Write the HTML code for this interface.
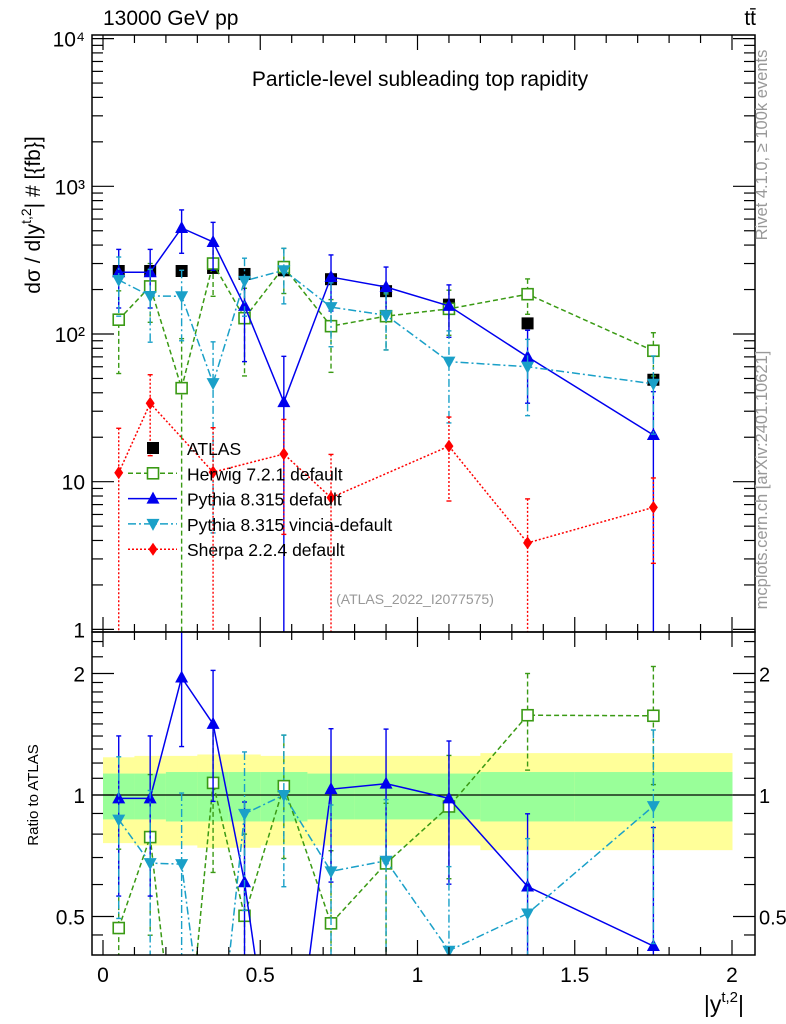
<!DOCTYPE html>
<html><head><meta charset="utf-8"><style>
html,body{margin:0;padding:0;background:#fff;width:786px;height:1024px;overflow:hidden;position:relative;}
svg{display:block;font-family:"Liberation Sans",sans-serif;}
</style></head><body>
<svg id="c" width="786" height="1024" style="position:absolute;left:0;top:0" xmlns="http://www.w3.org/2000/svg"></svg>
<script>
const binCenters=[0.05,0.15,0.25,0.35,0.45,0.575,0.725,0.9,1.1,1.35,1.75];
const binLo=[0,0.1,0.2,0.3,0.4,0.5,0.65,0.8,1.0,1.2,1.5];
const binHi=[0.1,0.2,0.3,0.4,0.5,0.65,0.8,1.0,1.2,1.5,2.0];
const atlasVals=[267,267,267,280,255,270,235,195,158,118,49];
const herwigVals=[125,210,43,300,128,284,113,132,148,186,77];
const herwigErr=[71,90,50,120,76,96,58,54,50,50,25];
const pythiaVals=[262,262,522,420,155,34.6,243,208,155,70,20.7];
const pythiaErr=[112,112,170,150,90,36,100,76,60,36,20];
const vinciaVals=[232,181,180,46.5,229,270,152,134,65,60,46];
const vinciaErr=[100,93,90,42,97,110,70,56,40,32,25];
const sherpaVals=[11.5,34,null,11.6,null,15.4,7.8,null,17.4,3.85,6.7];
const sherpaErr=[11.5,19,null,11.6,null,11,7.5,null,10,3.8,3.9];
const bandInner=[0.13,0.13,0.14,0.14,0.14,0.14,0.13,0.13,0.13,0.14,0.14];
const bandOuter=[0.24,0.25,0.25,0.26,0.26,0.25,0.25,0.25,0.25,0.27,0.27];
const xTicks=[0,0.5,1,1.5,2];
const yTicksMain=[1,10,100,1000,10000];
const yTickLabels=["1","10","10²","10³","10⁴"];
const ratioTicks=[0.5,1,2];

const svg=document.getElementById('c');
const NS="http://www.w3.org/2000/svg";
const L=92,R=755,T=35,M=632,B=955;
const sx=v=>103+314.5*v;
const sy=v=>334-147.7*Math.log10(v/100);
const sr=v=>795-121.5*Math.log2(v);
function el(tag,attrs,parent){const e=document.createElementNS(NS,tag);for(const k in attrs)e.setAttribute(k,attrs[k]);(parent||svg).appendChild(e);return e;}
function txt(s,x,y,attrs,parent){const t=el('text',Object.assign({x:x,y:y},attrs),parent);t.textContent=s;return t;}

const defs=el('defs',{});
const c1=el('clipPath',{id:'cm'},defs);el('rect',{x:L,y:T,width:R-L,height:M-T},c1);
const c2=el('clipPath',{id:'cr'},defs);el('rect',{x:L,y:M,width:R-L,height:B-M},c2);

const gB=el('g',{'clip-path':'url(#cr)'});


binCenters.forEach((c,i)=>{
  const r1=el('rect',{x:sx(binLo[i]),y:sr(1+bandOuter[i]),width:sx(binHi[i])-sx(binLo[i])+0.5,height:sr(1-bandOuter[i])-sr(1+bandOuter[i]),fill:'#ffff99'},gB);
  
  
  const r2=el('rect',{x:sx(binLo[i]),y:sr(1+bandInner[i]),width:sx(binHi[i])-sx(binLo[i])+0.5,height:sr(1-bandInner[i])-sr(1+bandInner[i]),fill:'#99ff99'},gB);
  
  
});
el('line',{x1:L,x2:R,y1:sr(1),y2:sr(1),stroke:'#000','stroke-width':1.2});

const series=[
 {name:'herwig',vals:herwigVals,err:herwigErr,color:'#3a9a14',dash:'5,3',marker:'osq'},
 {name:'pythia',vals:pythiaVals,err:pythiaErr,color:'#0000ee',dash:'',marker:'tri'},
 {name:'vincia',vals:vinciaVals,err:vinciaErr,color:'#1aa0c8',dash:'8,3,2,3',marker:'itri'},
 {name:'sherpa',vals:sherpaVals,err:sherpaErr,color:'#ff0000',dash:'2,2',marker:'dia'}
];
function marker(type,x,y,color,g){
  let m;
  if(type==='osq')m=el('rect',{x:x-5.5,y:y-5.5,width:11,height:11,fill:'#fff',stroke:color,'stroke-width':1.6},g);
  else if(type==='sq')m=el('rect',{x:x-6,y:y-6,width:12,height:12,fill:color},g);
  else if(type==='tri')m=el('polygon',{points:`${x},${y-7} ${x-6.5},${y+5} ${x+6.5},${y+5}`,fill:color},g);
  else if(type==='itri')m=el('polygon',{points:`${x},${y+7} ${x-6.5},${y-5} ${x+6.5},${y-5}`,fill:color},g);
  else m=el('polygon',{points:`${x},${y-6.5} ${x-4.5},${y} ${x},${y+6.5} ${x+4.5},${y}`,fill:color},g);
  
  
}
function drawPanel(clip,ysc,ratio){
  if(!ratio){
    const g=el('g',{'clip-path':clip});
    
    
    atlasVals.forEach((v,i)=>marker('sq',sx(binCenters[i]),ysc(v),'#000',g));
  }
  series.forEach(s=>{
    const g=el('g',{'clip-path':clip});
    
    
    let pts=[];
    s.vals.forEach((v,i)=>{
      if(v==null)return;
      const a=ratio?atlasVals[i]:1;
      const val=v/a,e=s.err[i]/a;
      const x=sx(binCenters[i]);
      const top=ysc(val+e);const lo=val-e;const bot=lo>0?Math.min(ysc(lo),1000):1000;
      el('line',{x1:x,x2:x,y1:top,y2:bot,stroke:s.color,'stroke-width':1.4,'stroke-dasharray':s.dash},g);
      el('line',{x1:x-2.5,x2:x+2.5,y1:top,y2:top,stroke:s.color,'stroke-width':1.4},g);
      if(lo>0)el('line',{x1:x-2.5,x2:x+2.5,y1:bot,y2:bot,stroke:s.color,'stroke-width':1.4},g);
      pts.push([x,ysc(val)]);
    });
    el('polyline',{points:pts.map(p=>p.join(',')).join(' '),fill:'none',stroke:s.color,'stroke-width':1.5,'stroke-dasharray':s.dash},g);
    pts.forEach(p=>marker(s.marker,p[0],p[1],s.color,g));
  });
}
drawPanel('url(#cm)',sy,false);
drawPanel('url(#cr)',sr,true);

el('rect',{x:L,y:T,width:R-L,height:M-T,fill:'none',stroke:'#000','stroke-width':1.5});
el('rect',{x:L,y:M,width:R-L,height:B-M,fill:'none',stroke:'#000','stroke-width':1.5});

for(let k=0;k<=21;k++){
  const v=k/10;const x=sx(v);if(x>R)continue;
  const major=k%5===0;const len=major?15:8;
  [[T,1],[M,-1],[M,1],[B,-1]].forEach(([y0,d])=>el('line',{x1:x,x2:x,y1:y0,y2:y0+d*len,stroke:'#000','stroke-width':1.2}));
}
xTicks.forEach(v=>{const t=txt(String(v),sx(v),982,{'font-size':21,'text-anchor':'middle'});
  
  });

yTicksMain.forEach((v,i)=>{
  const y=sy(v);
  el('line',{x1:L,x2:L+22,y1:y,y2:y,stroke:'#000','stroke-width':1.2});
  el('line',{x1:R,x2:R-22,y1:y,y2:y,stroke:'#000','stroke-width':1.2});
  const t=txt(yTickLabels[i],L-7,y+8,{'font-size':21,'text-anchor':'end'});
  
  
  if(v<10000)for(let m=2;m<10;m++){const yy=sy(v*m);
    el('line',{x1:L,x2:L+11,y1:yy,y2:yy,stroke:'#000','stroke-width':1.2});
    el('line',{x1:R,x2:R-11,y1:yy,y2:yy,stroke:'#000','stroke-width':1.2});}
});
[0.45,0.6,0.7,0.8,0.9,1.1,1.2,1.3,1.4,1.5,1.6,1.7,1.8,1.9,2.2,2.4].forEach(v=>{const y=sr(v);
  el('line',{x1:L,x2:L+11,y1:y,y2:y,stroke:'#000','stroke-width':1.2});
  el('line',{x1:R,x2:R-11,y1:y,y2:y,stroke:'#000','stroke-width':1.2});});
ratioTicks.forEach(v=>{const y=sr(v);
  el('line',{x1:L,x2:L+22,y1:y,y2:y,stroke:'#000','stroke-width':1.2});
  el('line',{x1:R,x2:R-22,y1:y,y2:y,stroke:'#000','stroke-width':1.2});
  const a=txt(String(v),L-7,y+8,{'font-size':21,'text-anchor':'end'});
  
  
  const b=txt(String(v),759,y+8,{'font-size':20});
  
  
});

const leg=[['ATLAS','#000','','sq',false],['Herwig 7.2.1 default','#3a9a14','5,3','osq',true],['Pythia 8.315 default','#0000ee','','tri',true],['Pythia 8.315 vincia-default','#1aa0c8','8,3,2,3','itri',true],['Sherpa 2.2.4 default','#ff0000','2,2','dia',true]];
leg.forEach((l,i)=>{
  const g=el('g',{});
  
  
  const y=448+i*25.3;
  if(l[4])el('line',{x1:128,x2:177,y1:y,y2:y,stroke:l[1],'stroke-width':1.5,'stroke-dasharray':l[2]},g);
  marker(l[3],153,y,l[1],g);
  txt(l[0],187,y+7,{'font-size':17.5},g);
});
</script>
<svg width="786" height="1024" style="position:absolute;left:0;top:0" xmlns="http://www.w3.org/2000/svg">
<text x="103" y="25" font-size="21" font-family="Liberation Sans, sans-serif">13000 GeV pp</text>
<text x="756" y="25" font-size="21" text-anchor="end" font-family="Liberation Sans, sans-serif">tt̄</text>
<text x="420" y="86" font-size="21" text-anchor="middle" font-family="Liberation Sans, sans-serif">Particle-level subleading top rapidity</text>
<text x="415" y="604" font-size="14" fill="#999" text-anchor="middle" font-family="Liberation Sans, sans-serif">(ATLAS_2022_I2077575)</text>
<text transform="translate(767,145) rotate(-90)" font-size="16.5" fill="#999" text-anchor="middle" font-family="Liberation Sans, sans-serif">Rivet 4.1.0, ≥ 100k events</text>
<text transform="translate(767,480) rotate(-90)" font-size="16.5" fill="#999" text-anchor="middle" font-family="Liberation Sans, sans-serif">mcplots.cern.ch [arXiv:2401.10621]</text>
<text transform="translate(40,215) rotate(-90)" font-size="21" text-anchor="middle" font-family="Liberation Sans, sans-serif">dσ / d|y<tspan dy="-9" font-size="14">t,2</tspan><tspan dy="9">| # [{fb}]</tspan></text>
<text transform="translate(38,795) rotate(-90)" font-size="15" text-anchor="middle" font-family="Liberation Sans, sans-serif">Ratio to ATLAS</text>
<text x="744" y="1012" font-size="23" text-anchor="end" font-family="Liberation Sans, sans-serif">|y<tspan dy="-10" font-size="15">t,2</tspan><tspan dy="10">|</tspan></text>
</svg>
</body></html>
